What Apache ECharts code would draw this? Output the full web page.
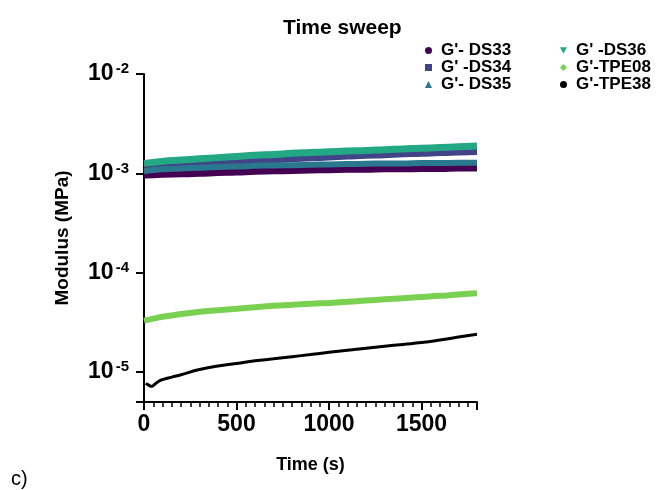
<!DOCTYPE html>
<html>
<head>
<meta charset="utf-8">
<script src="https://cdn.jsdelivr.net/npm/echarts@6/dist/echarts.min.js"></script>
<style>
  html, body { margin: 0; padding: 0; background: #fff; }
  #chart { width: 666px; height: 490px; }
</style>
</head>
<body>
<div id="chart"></div>
<script>
// time points (s)
var times = [0, 50, 100, 200, 300, 400, 500, 600, 700, 800, 900, 1000, 1100, 1200, 1300, 1400, 1500, 1600, 1700, 1800];
var timesTPE38 = [10, 25, 40, 60, 80, 100, 150, 200, 300, 400, 500, 600, 700, 800, 900, 1000, 1100, 1200, 1300, 1400, 1500, 1600, 1700, 1800];

// modulus (MPa)
var ds33 = [0.96e-3, 0.97e-3, 0.98e-3, 0.99e-3, 1.00e-3, 1.02e-3, 1.03e-3, 1.05e-3, 1.06e-3, 1.07e-3, 1.08e-3, 1.09e-3, 1.10e-3, 1.10e-3, 1.11e-3, 1.11e-3, 1.12e-3, 1.12e-3, 1.13e-3, 1.13e-3];
var ds34 = [1.15e-3, 1.18e-3, 1.20e-3, 1.24e-3, 1.27e-3, 1.30e-3, 1.33e-3, 1.36e-3, 1.39e-3, 1.42e-3, 1.45e-3, 1.48e-3, 1.51e-3, 1.54e-3, 1.56e-3, 1.59e-3, 1.61e-3, 1.64e-3, 1.66e-3, 1.68e-3];
var ds35 = [1.05e-3, 1.08e-3, 1.10e-3, 1.12e-3, 1.14e-3, 1.16e-3, 1.17e-3, 1.19e-3, 1.20e-3, 1.21e-3, 1.22e-3, 1.23e-3, 1.24e-3, 1.25e-3, 1.26e-3, 1.26e-3, 1.27e-3, 1.27e-3, 1.28e-3, 1.28e-3];
var ds36 = [1.26e-3, 1.29e-3, 1.32e-3, 1.36e-3, 1.40e-3, 1.44e-3, 1.48e-3, 1.52e-3, 1.55e-3, 1.59e-3, 1.62e-3, 1.65e-3, 1.68e-3, 1.70e-3, 1.73e-3, 1.76e-3, 1.79e-3, 1.82e-3, 1.85e-3, 1.88e-3];
var tpe08 = [3.30e-5, 3.45e-5, 3.60e-5, 3.85e-5, 4.05e-5, 4.20e-5, 4.35e-5, 4.50e-5, 4.64e-5, 4.75e-5, 4.87e-5, 4.97e-5, 5.10e-5, 5.25e-5, 5.40e-5, 5.55e-5, 5.70e-5, 5.85e-5, 6.05e-5, 6.20e-5];
var tpe38 = [7.7e-6, 7.4e-6, 7.2e-6, 7.6e-6, 8.1e-6, 8.4e-6, 8.9e-6, 9.4e-6, 1.06e-5, 1.15e-5, 1.22e-5, 1.30e-5, 1.36e-5, 1.43e-5, 1.50e-5, 1.58e-5, 1.66e-5, 1.74e-5, 1.82e-5, 1.90e-5, 1.98e-5, 2.10e-5, 2.25e-5, 2.40e-5];

var xTicks = [0, 500, 1000, 1500];

function pairs(xs, ys) {
    var out = [];
    for (var i = 0; i < xs.length; i++) out.push([xs[i], ys[i]]);
    return out;
}

var font = 'Liberation Sans, Arial, sans-serif';
var downTri = 'path://M0,0 L10,0 L5,9 Z';

function makeSeries(name, xs, ys, color, width) {
    return {
        name: name,
        type: 'line',
        data: pairs(xs, ys),
        showSymbol: false,
        smooth: true,
        itemStyle: { color: color },
        lineStyle: { color: color, width: width },
        animation: false
    };
}

var legendText = { fontFamily: font, fontWeight: 'bold', fontSize: 17, color: '#000', lineHeight: 17, padding: [0, 0, 0, 4] };

var chart = echarts.init(document.getElementById('chart'));
var option = {
    backgroundColor: '#fff',
    title: {
        text: 'Time sweep',
        left: 278,
        top: 13,
        textStyle: { fontFamily: font, fontWeight: 'bold', fontSize: 21, color: '#000' }
    },
    legend: [{
        data: [
            { name: "G'- DS33", icon: 'circle' },
            { name: "G' -DS34", icon: 'rect' },
            { name: "G'- DS35", icon: 'triangle' }
        ],
        orient: 'vertical',
        left: 420,
        top: 37,
        itemGap: 0,
        itemWidth: 7,
        itemHeight: 7,
        textStyle: legendText
    }, {
        data: [
            { name: "G' -DS36", icon: downTri },
            { name: "G'-TPE08", icon: 'diamond' },
            { name: "G'-TPE38", icon: 'circle', itemStyle: { borderWidth: 0 } }
        ],
        orient: 'vertical',
        left: 555,
        top: 37,
        itemGap: 0,
        itemWidth: 7,
        itemHeight: 7,
        textStyle: legendText
    }],
    grid: { left: 144, right: 189, top: 74, bottom: 88 },
    xAxis: {
        type: 'value',
        min: 0,
        max: 1800,
        interval: 500,
        name: 'Time (s)',
        nameLocation: 'middle',
        nameGap: 54,
        nameTextStyle: { fontFamily: font, fontWeight: 'bold', fontSize: 18, color: '#000' },
        axisLine: { lineStyle: { color: '#000', width: 2 } },
        axisTick: { length: 8, lineStyle: { color: '#000', width: 2 } },
        minorTick: { show: true, splitNumber: 10, length: 5, lineStyle: { color: '#000', width: 1.5 } },
        splitLine: { show: false },
        axisLabel: {
            fontFamily: font, fontWeight: 'bold', fontSize: 23, color: '#000', margin: 11,
            formatter: function (v) { return xTicks.indexOf(v) >= 0 ? String(v) : ''; }
        }
    },
    yAxis: {
        type: 'log',
        logBase: 10,
        min: 5e-6,
        max: 1e-2,
        name: 'Modulus (MPa)',
        nameLocation: 'middle',
        nameGap: 72,
        nameMoveOverlap: false,
        nameTextStyle: { fontFamily: font, fontWeight: 'bold', fontSize: 19, color: '#000' },
        axisLine: { show: true, lineStyle: { color: '#000', width: 2 } },
        axisTick: { show: true, length: 8, lineStyle: { color: '#000', width: 2 } },
        splitLine: { show: false },
        axisLabel: {
            margin: 15,
            formatter: function (v) {
                var e = Math.round(Math.log10(v));
                if (Math.abs(Math.log10(v) - e) > 1e-6) return '';
                return '{a|10}{b|' + e + '}';
            },
            rich: {
                a: { fontFamily: font, fontWeight: 'bold', fontSize: 23, color: '#000' },
                b: { fontFamily: font, fontWeight: 'bold', fontSize: 15, color: '#000', verticalAlign: 'top', padding: [0, 0, 10, 2] }
            }
        }
    },
    series: [
        makeSeries("G'- DS33", times, ds33, '#440154', 7),
        makeSeries("G' -DS34", times, ds34, '#414487', 8),
        makeSeries("G'- DS35", times, ds35, '#2a788e', 6),
        makeSeries("G' -DS36", times, ds36, '#22a884', 7),
        makeSeries("G'-TPE08", times, tpe08, '#7ad151', 6),
        makeSeries("G'-TPE38", timesTPE38, tpe38, '#000000', 3)
    ],
    graphic: [{
        type: 'text',
        left: 11,
        top: 469,
        style: { text: 'c)', fontFamily: font, fontSize: 20, fill: '#000' }
    }]
};
chart.setOption(option);
</script>
</body>
</html>
